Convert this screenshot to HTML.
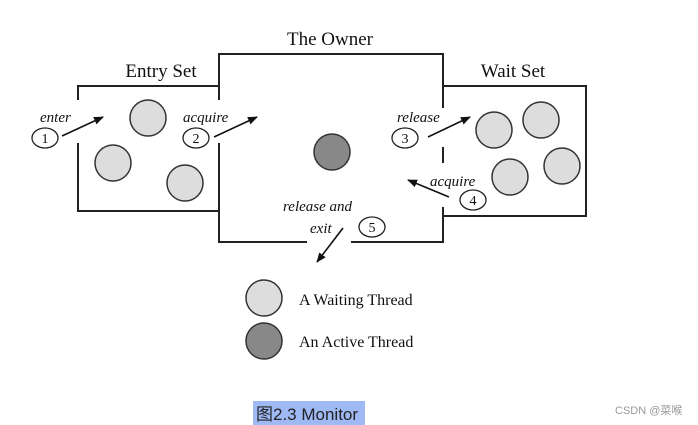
<!DOCTYPE html>
<html><head><meta charset="utf-8"><style>
html,body{margin:0;padding:0;background:#fff;width:698px;height:425px;overflow:hidden}
svg{display:block}
</style></head><body>
<svg width="698" height="425" viewBox="0 0 698 425" xmlns="http://www.w3.org/2000/svg">
<defs>
<marker id="ah" markerWidth="10" markerHeight="8" refX="9" refY="4" orient="auto" markerUnits="userSpaceOnUse">
<path d="M0,0 L10,4 L0,8 Z" fill="#111"/></marker>
</defs>
<g stroke="#222" stroke-width="2" fill="none">
<!-- entry set -->
<polyline points="78,100 78,86 219,86"/>
<polyline points="78,143 78,211 219,211"/>
<!-- owner -->
<polyline points="219,100 219,54 443,54 443,108"/>
<polyline points="219,143 219,242 307,242"/>
<polyline points="351,242 443,242 443,207"/>
<line x1="443" y1="147" x2="443" y2="163"/>
<!-- wait set -->
<polyline points="443,86 586,86 586,216 443,216"/>
</g>
<g stroke="#333" stroke-width="1.5" fill="#ddd">
<circle cx="148" cy="118" r="18"/>
<circle cx="113" cy="163" r="18"/>
<circle cx="185" cy="183" r="18"/>
<circle cx="494" cy="130" r="18"/>
<circle cx="541" cy="120" r="18"/>
<circle cx="510" cy="177" r="18"/>
<circle cx="562" cy="166" r="18"/>
<circle cx="264" cy="298" r="18"/>
<circle cx="332" cy="152" r="18" fill="#888"/>
<circle cx="264" cy="341" r="18" fill="#888"/>
</g>
<g stroke="#222" stroke-width="1.3" fill="#fff">
<ellipse cx="45" cy="138" rx="13" ry="10"/>
<ellipse cx="196" cy="138" rx="13" ry="10"/>
<ellipse cx="405" cy="138" rx="13" ry="10"/>
<ellipse cx="473" cy="200" rx="13" ry="10"/>
<ellipse cx="372" cy="227" rx="13" ry="10"/>
</g>
<g stroke="#111" stroke-width="1.6" marker-end="url(#ah)">
<line x1="62" y1="136" x2="103" y2="117"/>
<line x1="214" y1="137" x2="257" y2="117"/>
<line x1="428" y1="137" x2="470" y2="117"/>
<line x1="449" y1="197" x2="408" y2="180"/>
<line x1="343" y1="228" x2="317" y2="262"/>
</g>
<g font-family="Liberation Serif, serif" fill="#111">
<text x="330" y="45" font-size="19" text-anchor="middle">The Owner</text>
<text x="161" y="77" font-size="19" text-anchor="middle">Entry Set</text>
<text x="513" y="77" font-size="19" text-anchor="middle">Wait Set</text>
<g font-size="14" text-anchor="middle">
<text x="45" y="143">1</text><text x="196" y="143">2</text><text x="405" y="143">3</text>
<text x="473" y="205">4</text><text x="372" y="232">5</text>
</g>
<g font-size="15" font-style="italic">
<text x="40" y="122">enter</text>
<text x="183" y="122">acquire</text>
<text x="397" y="122">release</text>
<text x="430" y="186">acquire</text>
<text x="283" y="211">release and</text>
<text x="310" y="233">exit</text>
</g>
<text x="299" y="305" font-size="16">A Waiting Thread</text>
<text x="299" y="347" font-size="16">An Active Thread</text>
</g>
<rect x="253" y="401" width="112" height="24" fill="#9fb9f5"/>
<text x="256" y="420" font-family="Liberation Sans, 'Noto Sans CJK SC', sans-serif" font-size="17" fill="#222">图2.3 Monitor</text>
<text x="615" y="414" font-family="Liberation Sans, 'Noto Sans CJK SC', sans-serif" font-size="11" fill="#999">CSDN @菜喉</text>
</svg>
</body></html>
